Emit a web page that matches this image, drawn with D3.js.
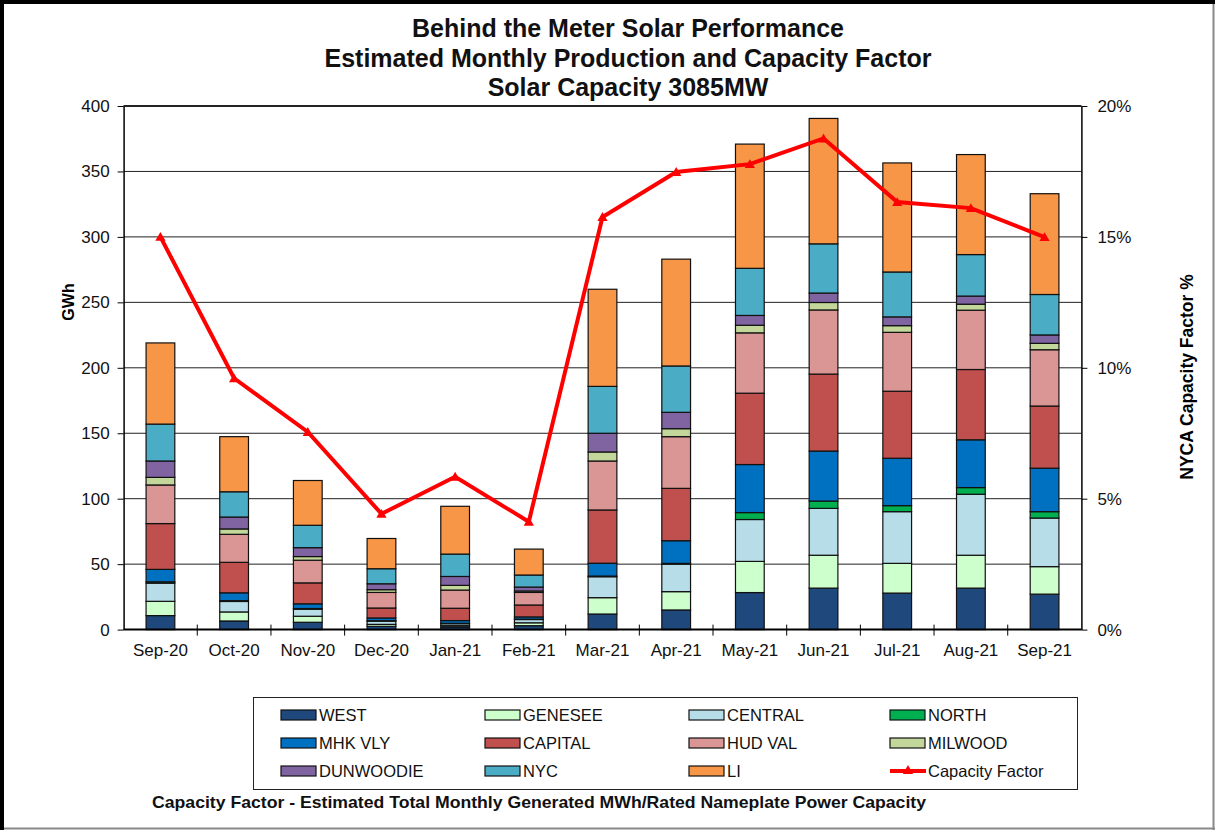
<!DOCTYPE html>
<html>
<head>
    <meta charset="utf-8">
    <style>
        body {
            margin: 0;
            background: white;
        }
        svg {
            display: block;
            font-family: Arial, 'Liberation Sans', sans-serif;
        }
        .axis .domain {
            stroke: black;
            stroke-width: 1.5px;
        }
        .axis .tick line {
            stroke: black;
        }
        .axis .tick text {
            font-size: 17px;
            fill: #111;
        }
        .grid line {
            stroke: #222;
            stroke-width: 1px;
        }
        .title {
            font-size: 25px;
            font-weight: bold;
            fill: #111;
        }
        .legend text {
            font-size: 16.5px;
            fill: #111;
        }
    </style>
</head>
<body>
<svg width="1215" height="830"></svg>

<script src="https://d3js.org/d3.v7.min.js"></script>
<script>
    // chart values (GWh per zone, CF in %)
    let months = ["Sep-20", "Oct-20", "Nov-20", "Dec-20", "Jan-21", "Feb-21", "Mar-21",
                  "Apr-21", "May-21", "Jun-21", "Jul-21", "Aug-21", "Sep-21"];

    let west      = [10.7, 6.6, 5.6, 2.5, 2.0, 3.0, 11.9, 15.0, 28.3, 31.7, 27.9, 31.7, 27.1];
    let genesee   = [10.9, 6.9, 4.6, 1.5, 1.0, 2.2, 12.5, 14.0, 23.8, 25.1, 22.7, 25.1, 21.0];
    let central   = [13.9, 8.0, 5.4, 2.5, 1.5, 2.5, 16.0, 21.0, 32.0, 35.8, 39.5, 46.6, 37.1];
    let north     = [1.0, 0.6, 0.5, 0.3, 0.3, 0.3, 0.5, 0.6, 5.3, 5.6, 4.6, 5.1, 4.9];
    let mhkVly    = [9.5, 6.0, 3.6, 2.1, 2.1, 1.7, 9.8, 17.3, 36.7, 38.2, 36.2, 36.5, 33.2];
    let capital   = [35.0, 23.3, 16.0, 7.6, 9.4, 9.1, 40.7, 40.0, 54.5, 58.8, 51.2, 53.7, 47.5];
    let hudVal    = [29.5, 21.4, 17.3, 11.9, 13.9, 9.6, 37.4, 39.5, 46.1, 49.0, 45.0, 45.3, 43.0];
    let milwood   = [5.8, 4.1, 2.8, 2.1, 3.6, 1.1, 6.9, 6.1, 5.8, 5.7, 5.1, 4.6, 4.9];
    let dunwoodie = [12.5, 9.1, 6.8, 4.5, 6.8, 3.0, 14.3, 12.5, 7.5, 7.2, 6.7, 6.2, 6.4];
    let nyc       = [28.2, 19.3, 17.1, 11.5, 17.1, 9.2, 35.8, 35.4, 36.0, 37.6, 34.3, 31.7, 30.9];
    let li        = [62.0, 42.1, 34.2, 23.1, 36.5, 19.8, 74.2, 81.6, 94.9, 95.8, 83.3, 76.4, 77.0];

    let capFactor = [15.0, 9.6, 7.55, 4.42, 5.84, 4.12, 15.76, 17.48, 17.78, 18.76, 16.33, 16.1, 14.99];

    let leftTicks = [0, 50, 100, 150, 200, 250, 300, 350, 400];
    let rightTicks = [0, 5, 10, 15, 20];

    let zones = [
        { key: "WEST", values: west, color: "#1F497D" },
        { key: "GENESEE", values: genesee, color: "#CCFFCC" },
        { key: "CENTRAL", values: central, color: "#B7DEE8" },
        { key: "NORTH", values: north, color: "#00B050" },
        { key: "MHK VLY", values: mhkVly, color: "#0070C0" },
        { key: "CAPITAL", values: capital, color: "#C0504D" },
        { key: "HUD VAL", values: hudVal, color: "#DA9694" },
        { key: "MILWOOD", values: milwood, color: "#C4D79B" },
        { key: "DUNWOODIE", values: dunwoodie, color: "#8064A2" },
        { key: "NYC", values: nyc, color: "#4BACC6" },
        { key: "LI", values: li, color: "#F79646" }
    ];

    // table for the stack
    let table = months.map(function (m, i) {
        let row = { month: m };
        zones.forEach(function (z) { row[z.key] = z.values[i]; });
        return row;
    });

    let plot = { left: 123.6, right: 1081.4, top: 106, bottom: 629.6 };

    let svg = d3.select("svg");

    // frame around the picture
    svg.append("rect").attr("x", 0).attr("y", 0).attr("width", 1215).attr("height", 830).attr("fill", "white");
    svg.append("line").attr("x1", 1213.5).attr("x2", 1213.5).attr("y1", 0).attr("y2", 830)
        .style("stroke", "#888").style("stroke-width", "2px");
    svg.append("line").attr("x1", 0).attr("x2", 1215).attr("y1", 828.5).attr("y2", 828.5)
        .style("stroke", "#888").style("stroke-width", "2px");
    svg.append("rect").attr("x", 0).attr("y", 0).attr("width", 4).attr("height", 830).attr("fill", "black");
    svg.append("rect").attr("x", 0).attr("y", 0).attr("width", 1215).attr("height", 4).attr("fill", "black");

    let x = d3.scaleBand()
        .domain(months)
        .range([plot.left, plot.right])
        .paddingInner(0.61)
        .paddingOuter(0.305);

    let y = d3.scaleLinear()
        .domain([0, 400])
        .range([plot.bottom, plot.top]);

    let y2 = d3.scaleLinear()
        .domain([0, 20])
        .range([plot.bottom, plot.top]);

    // grid lines
    svg.append("g")
        .attr("class", "grid")
        .selectAll("line")
        .data(leftTicks.filter(d => d > 0))
        .join("line")
        .attr("x1", plot.left)
        .attr("x2", plot.right)
        .attr("y1", d => y(d))
        .attr("y2", d => y(d));

    // stacked bars
    let stack = d3.stack().keys(zones.map(z => z.key));
    let series = stack(table);

    svg.append("g")
        .selectAll("g")
        .data(series)
        .join("g")
        .attr("fill", (d, i) => zones[i].color)
        .selectAll("rect")
        .data(d => d)
        .join("rect")
        .attr("x", d => x(d.data.month))
        .attr("width", x.bandwidth())
        .attr("y", d => y(d[1]))
        .attr("height", d => y(d[0]) - y(d[1]))
        .style("stroke", "#111")
        .style("stroke-width", "1.2px");

    // left axis
    svg.append("g")
        .attr("class", "y axis")
        .attr("transform", `translate(${plot.left}, 0)`)
        .call(d3.axisLeft(y).tickValues(leftTicks).tickSize(6).tickSizeOuter(0).tickPadding(8));

    // right axis
    svg.append("g")
        .attr("class", "y2 axis")
        .attr("transform", `translate(${plot.right}, 0)`)
        .call(d3.axisRight(y2).tickValues(rightTicks).tickSize(6).tickSizeOuter(0).tickPadding(10)
            .tickFormat(d => d + "%"));

    // x axis: labels at centres, ticks between categories
    let xAxis = svg.append("g")
        .attr("class", "x axis")
        .attr("transform", `translate(0, ${plot.bottom})`)
        .call(d3.axisBottom(x).tickSize(0).tickSizeOuter(0).tickPadding(14));
    xAxis.select(".domain").remove();

    let gap = (x.step() - x.bandwidth()) / 2;
    let bounds = months.map(m => x(m) - gap).concat([x(months[months.length - 1]) + x.bandwidth() + gap]);
    svg.append("g")
        .selectAll("line")
        .data(bounds.slice(1, -1))
        .join("line")
        .attr("x1", d => d)
        .attr("x2", d => d)
        .attr("y1", plot.bottom - 5)
        .attr("y2", plot.bottom + 6)
        .style("stroke", "black");

    svg.append("line")
        .attr("x1", plot.left)
        .attr("x2", plot.right)
        .attr("y1", plot.bottom)
        .attr("y2", plot.bottom)
        .style("stroke", "black")
        .style("stroke-width", "2px");

    // top border of plot area
    svg.append("line")
        .attr("x1", plot.left)
        .attr("x2", plot.right)
        .attr("y1", plot.top)
        .attr("y2", plot.top)
        .style("stroke", "black")
        .style("stroke-width", "1.5px");

    // capacity factor line
    let line = d3.line()
        .x((d, i) => x(months[i]) + x.bandwidth() / 2)
        .y(d => y2(d));

    svg.append("path")
        .datum(capFactor)
        .attr("d", line)
        .style("fill", "none")
        .style("stroke", "#FF0000")
        .style("stroke-width", "4px")
        .style("stroke-linejoin", "miter");

    svg.append("g")
        .selectAll("path")
        .data(capFactor)
        .join("path")
        .attr("d", d3.symbol(d3.symbolTriangle).size(45))
        .attr("transform", (d, i) => `translate(${x(months[i]) + x.bandwidth() / 2}, ${y2(d) + 1})`)
        .attr("fill", "#FF0000");

    // titles
    let titleLines = ["Behind the Meter Solar Performance",
                      "Estimated Monthly Production and Capacity Factor",
                      "Solar Capacity 3085MW"];
    svg.append("g")
        .selectAll("text")
        .data(titleLines)
        .join("text")
        .attr("class", "title")
        .attr("x", 628)
        .attr("y", (d, i) => 37 + i * 29.5)
        .attr("text-anchor", "middle")
        .text(d => d);

    svg.append("text")
        .attr("transform", "translate(74, 302) rotate(-90)")
        .attr("text-anchor", "middle")
        .style("font-size", "16px")
        .style("font-weight", "bold")
        .text("GWh");

    svg.append("text")
        .attr("transform", "translate(1193, 377) rotate(-90)")
        .attr("text-anchor", "middle")
        .style("font-size", "17.5px")
        .style("font-weight", "bold")
        .text("NYCA Capacity Factor %");

    // legend
    let legend = svg.append("g").attr("class", "legend");
    legend.append("rect")
        .attr("x", 253.5)
        .attr("y", 697.5)
        .attr("width", 824)
        .attr("height", 92)
        .attr("fill", "white")
        .style("stroke", "#222")
        .style("stroke-width", "1px");

    let legendCols = [281, 485, 689, 890];
    let legendRows = [715, 743, 771];

    let items = legend.selectAll("g.item")
        .data(zones.concat([{ key: "Capacity Factor", line: true }]))
        .join("g")
        .attr("class", "item")
        .attr("transform", (d, i) => `translate(${legendCols[i % 4]}, ${legendRows[Math.floor(i / 4)]})`);

    items.filter(d => !d.line)
        .append("rect")
        .attr("x", 0)
        .attr("y", -5)
        .attr("width", 35)
        .attr("height", 10)
        .attr("fill", d => d.color)
        .style("stroke", "#111")
        .style("stroke-width", "1.2px");

    let cfItem = items.filter(d => d.line);
    cfItem.append("line")
        .attr("x1", 0)
        .attr("x2", 36)
        .attr("y1", 0)
        .attr("y2", 0)
        .style("stroke", "#FF0000")
        .style("stroke-width", "4px");
    cfItem.append("path")
        .attr("d", d3.symbol(d3.symbolTriangle).size(45))
        .attr("transform", "translate(18, 0)")
        .attr("fill", "#FF0000");

    items.append("text")
        .attr("x", 38)
        .attr("y", 6)
        .text(d => d.key);

    // footnote
    svg.append("text")
        .attr("x", 152)
        .attr("y", 808)
        .attr("textLength", 774)
        .attr("lengthAdjust", "spacingAndGlyphs")
        .style("font-size", "16.5px")
        .style("font-weight", "bold")
        .style("fill", "#111")
        .text("Capacity Factor  - Estimated Total Monthly Generated MWh/Rated Nameplate Power Capacity");
</script>
</body>
</html>
